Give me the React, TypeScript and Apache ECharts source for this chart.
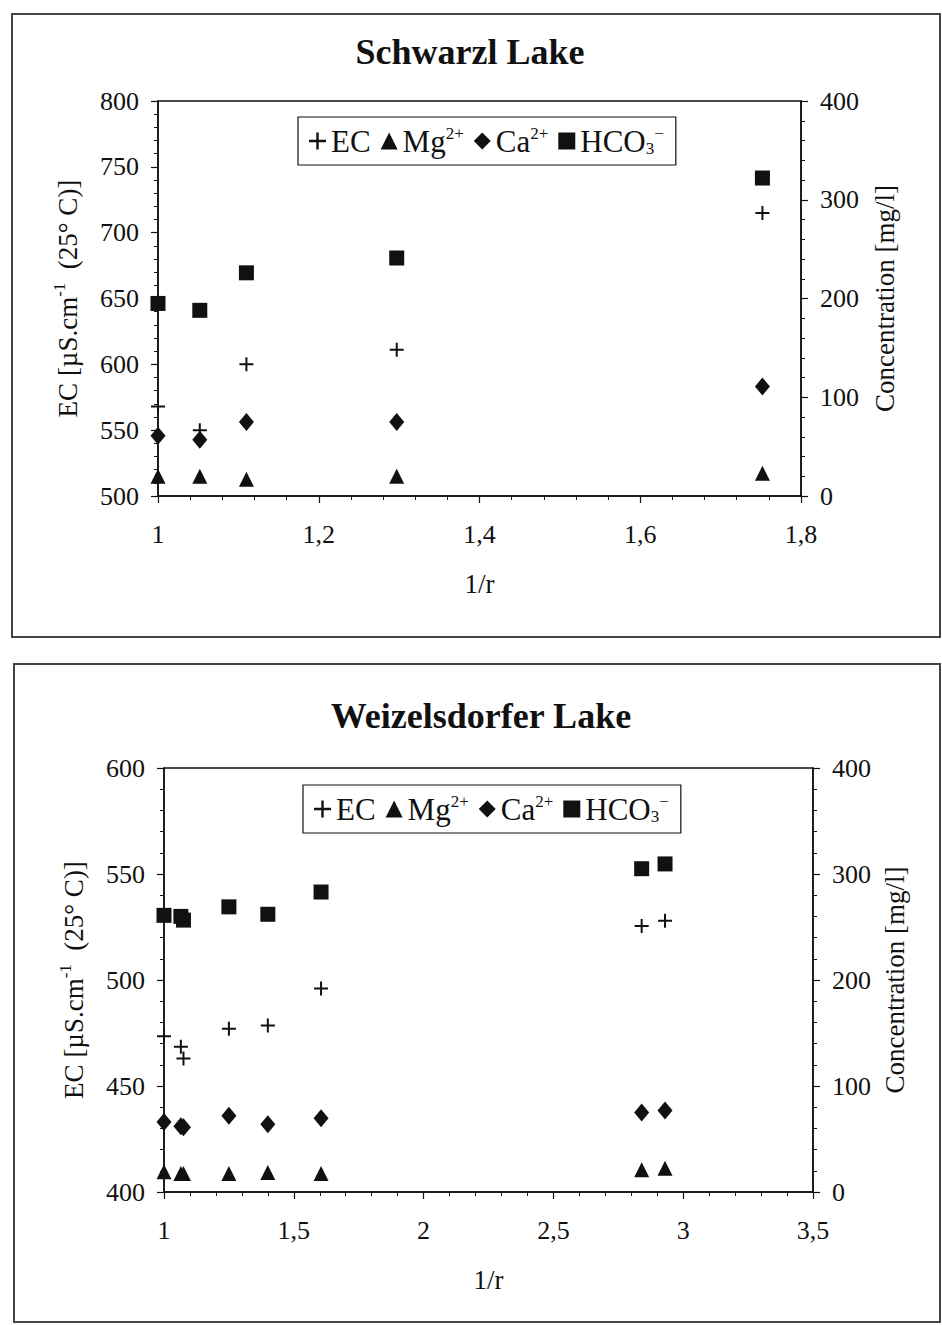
import React, { useEffect, useRef } from 'react';
import * as echarts from 'echarts';

// ---------- Data ----------
// Schwarzl Lake
const schwarzlX = [1.0, 1.052, 1.11, 1.297, 1.752];
const schwarzlEC = [568, 550, 600, 611, 715];
const schwarzlMg = [20, 20, 17, 20, 23];
const schwarzlCa = [61, 57, 75, 75, 111];
const schwarzlHCO3 = [195, 188, 226, 241, 322];

// Weizelsdorfer Lake
const weizX = [1.0, 1.065, 1.075, 1.25, 1.4, 1.605, 2.84, 2.93];
const weizEC = [473.5, 468.5, 463, 477, 478.5, 496, 525.5, 528];
const weizMg = [19, 17.5, 17.5, 17.5, 18.5, 17.5, 21, 22.5];
const weizCa = [66, 62, 61, 72, 64, 69.5, 75, 77];
const weizHCO3 = [261, 260, 256.5, 269, 262, 283, 305, 309.5];

const titles = ['Schwarzl Lake', 'Weizelsdorfer Lake'];
const seriesNames = ['EC', 'Mg', 'Ca', 'HCO3'];

const FONT = '"Liberation Serif", "Times New Roman", serif';
const CROSS = 'path://M6,0H8V6H14V8H8V14H6V8H0V6H6Z';
const INK = '#111';

const pairs = (xs: number[], ys: number[]) => xs.map((x, i) => [x, ys[i]]);
const commaFmt = (v: number) => String(+(+v).toFixed(2)).replace('.', ',');

const legendRich = {
  n: { fontFamily: FONT, fontSize: 31, color: INK },
  sup: { fontFamily: FONT, fontSize: 17, color: INK, padding: [0, 0, 15, 0] },
  sub: { fontFamily: FONT, fontSize: 17, color: INK, padding: [15, 0, 0, 0] },
};
const legendFormatter = (name: string) => {
  if (name === 'EC') return '{n|EC}';
  if (name === 'Mg') return '{n|Mg}{sup|2+}';
  if (name === 'Ca') return '{n|Ca}{sup|2+}';
  return '{n|HCO}{sub|3}{sup|−}';
};

const axisLabelStyle = { fontFamily: FONT, fontSize: 26, color: INK };
const nameStyle = { fontFamily: FONT, fontSize: 27, color: INK };
const ecNameRich = {
  fontFamily: FONT,
  fontSize: 27,
  color: INK,
  rich: {
    a: { fontFamily: FONT, fontSize: 27, color: INK },
    s: { fontFamily: FONT, fontSize: 17, color: INK, padding: [0, 0, 16, 0] },
  },
};

function xAxisOpt(gridIndex: number, min: number, max: number, interval: number) {
  return {
    type: 'value',
    gridIndex,
    min,
    max,
    interval,
    axisLine: { show: true, onZero: false, lineStyle: { color: INK, width: 1.5 } },
    axisTick: { show: true, length: 7, lineStyle: { color: INK, width: 1.2 } },
    minorTick: { show: true, splitNumber: 5, length: 4, lineStyle: { color: INK, width: 1 } },
    splitLine: { show: false },
    axisLabel: { ...axisLabelStyle, margin: 25, formatter: commaFmt },
    name: '1/r',
    nameLocation: 'middle',
    nameGap: 74,
    nameTextStyle: nameStyle,
  };
}

function yAxisOpt(
  gridIndex: number,
  position: 'left' | 'right',
  min: number,
  max: number,
  interval: number,
  name: string,
  nameGap: number,
  rich: boolean
) {
  return {
    type: 'value',
    gridIndex,
    position,
    min,
    max,
    interval,
    axisLine: { show: true, onZero: false, lineStyle: { color: INK, width: 1.5 } },
    axisTick: { show: true, length: 7, lineStyle: { color: INK, width: 1.2 } },
    minorTick: { show: true, splitNumber: 5, length: 4, lineStyle: { color: INK, width: 1 } },
    splitLine: { show: false },
    axisLabel: { ...axisLabelStyle, margin: 19 },
    name,
    nameLocation: 'middle',
    nameRotate: 90,
    nameGap,
    nameTextStyle: rich ? ecNameRich : nameStyle,
  };
}

function scatterSeries(
  name: string,
  xAxisIndex: number,
  yAxisIndex: number,
  data: number[][]
) {
  const sym: Record<string, any> = {
    EC: { symbol: CROSS, symbolSize: [14, 14] },
    Mg: { symbol: 'triangle', symbolSize: [15, 15] },
    Ca: { symbol: 'diamond', symbolSize: [15, 18] },
    HCO3: { symbol: 'rect', symbolSize: [15, 15] },
  };
  return {
    type: 'scatter',
    name,
    xAxisIndex,
    yAxisIndex,
    data,
    ...sym[name],
    itemStyle: { color: INK, opacity: 1 },
    emphasis: { disabled: true },
    clip: false,
    z: 3,
  };
}

function legendOpt(left: number, top: number) {
  return {
    show: true,
    left,
    top,
    orient: 'horizontal',
    data: seriesNames,
    itemWidth: 17,
    itemHeight: 17,
    itemGap: 10,
    padding: [8, 12, 8, 11],
    borderColor: INK,
    borderWidth: 1.2,
    backgroundColor: '#fff',
    selectedMode: false,
    formatter: legendFormatter,
    textStyle: { fontFamily: FONT, fontSize: 31, color: INK, rich: legendRich },
    itemStyle: { color: INK },
    z: 10,
  };
}

const option = {
  animation: false,
  backgroundColor: '#fff',
  graphic: [
    {
      type: 'rect',
      shape: { x: 12, y: 14, width: 928, height: 623 },
      style: { fill: 'none', stroke: '#444', lineWidth: 2 },
      silent: true,
    },
    {
      type: 'rect',
      shape: { x: 14, y: 664, width: 926, height: 658 },
      style: { fill: 'none', stroke: '#444', lineWidth: 2 },
      silent: true,
    },
    {
      type: 'text',
      x: 470,
      y: 52,
      style: {
        text: titles[0],
        fontFamily: FONT,
        fontWeight: 'bold',
        fontSize: 36,
        fill: INK,
        textAlign: 'center',
        textVerticalAlign: 'middle',
      },
    },
    {
      type: 'text',
      x: 481,
      y: 716,
      style: {
        text: titles[1],
        fontFamily: FONT,
        fontWeight: 'bold',
        fontSize: 36,
        fill: INK,
        textAlign: 'center',
        textVerticalAlign: 'middle',
      },
    },
  ],
  grid: [
    { left: 158, top: 101, width: 643, height: 395, show: true, borderColor: INK, borderWidth: 1.5, backgroundColor: 'transparent' },
    { left: 164, top: 768, width: 649, height: 424, show: true, borderColor: INK, borderWidth: 1.5, backgroundColor: 'transparent' },
  ],
  legend: [legendOpt(298, 117), legendOpt(303, 785)],
  xAxis: [xAxisOpt(0, 1, 1.8, 0.2), xAxisOpt(1, 1, 3.5, 0.5)],
  yAxis: [
    yAxisOpt(0, 'left', 500, 800, 50, '{a|EC [µS.cm}{s|-1}{a|  (25° C)]}', 74, true),
    yAxisOpt(0, 'right', 0, 400, 100, 'Concentration [mg/l]', 70, false),
    yAxisOpt(1, 'left', 400, 600, 50, '{a|EC [µS.cm}{s|-1}{a|  (25° C)]}', 74, true),
    yAxisOpt(1, 'right', 0, 400, 100, 'Concentration [mg/l]', 67, false),
  ],
  series: [
    scatterSeries('EC', 0, 0, pairs(schwarzlX, schwarzlEC)),
    scatterSeries('Mg', 0, 1, pairs(schwarzlX, schwarzlMg)),
    scatterSeries('Ca', 0, 1, pairs(schwarzlX, schwarzlCa)),
    scatterSeries('HCO3', 0, 1, pairs(schwarzlX, schwarzlHCO3)),
    scatterSeries('EC', 1, 2, pairs(weizX, weizEC)),
    scatterSeries('Mg', 1, 3, pairs(weizX, weizMg)),
    scatterSeries('Ca', 1, 3, pairs(weizX, weizCa)),
    scatterSeries('HCO3', 1, 3, pairs(weizX, weizHCO3)),
  ],
};

export default function App() {
  const ref = useRef<HTMLDivElement>(null);
  useEffect(() => {
    if (!ref.current) return;
    const chart = echarts.init(ref.current, null, { renderer: 'svg' });
    chart.setOption(option as any);
    return () => chart.dispose();
  }, []);
  return (
    <div
      ref={ref}
      style={{ position: 'absolute', left: 0, top: 0, width: 942, height: 1325, background: '#fff' }}
    />
  );
}
